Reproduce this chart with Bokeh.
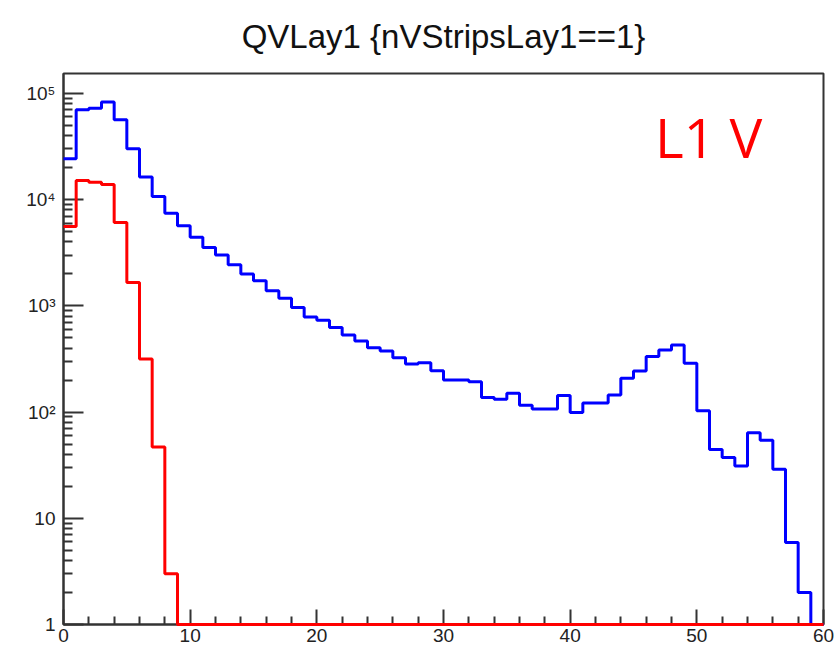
import numpy as np
from bokeh.plotting import figure
from bokeh.models import Range1d, FixedTicker, Label
from bokeh.embed import file_html
from bokeh.resources import INLINE

# ---- data -------------------------------------------------------------
bin_edges = [0, 1, 2, 3, 4, 5, 6, 7, 8, 9, 10, 11, 12, 13, 14, 15, 16, 17, 18, 19,
             20, 21, 22, 23, 24, 25, 26, 27, 28, 29, 30, 31, 32, 33, 34, 35, 36, 37, 38, 39,
             40, 41, 42, 43, 44, 45, 46, 47, 48, 49, 50, 51, 52, 53, 54, 55, 56, 57, 58, 59, 60]

blue_counts = [24200, 70200, 72600, 82800, 56500, 30100, 16300, 10700, 7430, 5690,
               4420, 3550, 3010, 2440, 1990, 1720, 1390, 1180, 964, 787,
               733, 624, 532, 467, 404, 376, 325, 284, 292, 245,
               200, 200, 193, 137, 132, 150, 116, 107, 107, 143,
               99, 122, 122, 145, 208, 244, 333, 385, 429, 288,
               103, 44.5, 37.4, 31, 63.8, 54.4, 29, 5.9, 2, 0]

red_counts = [5600, 15100, 14600, 13900, 6100, 1660, 316, 47, 3, 0,
              0, 0, 0, 0, 0, 0, 0, 0, 0, 0,
              0, 0, 0, 0, 0, 0, 0, 0, 0, 0,
              0, 0, 0, 0, 0, 0, 0, 0, 0, 0,
              0, 0, 0, 0, 0, 0, 0, 0, 0, 0,
              0, 0, 0, 0, 0, 0, 0, 0, 0, 0]

x_major_ticks = [0, 10, 20, 30, 40, 50, 60]
x_minor_ticks = [2, 4, 6, 8, 12, 14, 16, 18, 22, 24, 26, 28, 32, 34, 36, 38,
                 42, 44, 46, 48, 52, 54, 56, 58]
y_tick_values = [1, 10, 100, 1000, 10000, 100000]
y_tick_labels = ["1", "10", "10\u00b2", "10\u00b3", "10\u2074", "10\u2075"]

title_text = "QVLay1 {nVStripsLay1==1}"
tag_text = "L1 V"

y_min, y_max = 1, 1.54e5

# ---- figure -----------------------------------------------------------
W, H = 838, 653
ML, MR, MT, MB = 63, 15, 73, 29

p = figure(width=W, height=H, y_axis_type="log",
           x_range=Range1d(0, 60), y_range=Range1d(y_min, y_max),
           output_backend="svg", toolbar_location=None,
           min_border_left=ML, min_border_right=MR,
           min_border_top=MT, min_border_bottom=MB)

p.title.text = title_text
p.title.align = "center"
p.title.vertical_align = "top"
p.title.standoff = 34
p.title.text_font = "Liberation Sans"
p.title.text_font_size = "33px"
p.title.text_font_style = "normal"
p.title.text_color = "#111111"

p.xgrid.visible = False
p.ygrid.visible = False
p.outline_line_color = "#333333"
p.outline_line_width = 2
p.background_fill_color = "white"
p.border_fill_color = "white"

# step outlines (empty bins drawn on the floor of the log axis)
def step_values(counts):
    v = [c if c > 0 else y_min for c in counts]
    return v + [v[-1]]

rb = p.step(bin_edges, step_values(blue_counts), mode="after",
            line_color="#0000ff", line_width=3)
rr = p.step(bin_edges, step_values(red_counts), mode="after",
            line_color="#ff0000", line_width=3)
rb.level = "overlay"
rr.level = "overlay"

# axes
xa = p.xaxis[0]
xa.ticker = FixedTicker(ticks=x_major_ticks, minor_ticks=x_minor_ticks)
ya = p.yaxis[0]
y_minor = [m * 10 ** k for k in range(0, 6) for m in range(2, 10)]
ya.ticker = FixedTicker(ticks=y_tick_values, minor_ticks=y_minor)
ya.major_label_overrides = {float(v): s for v, s in zip(y_tick_values, y_tick_labels)}

for ax in (xa, ya):
    ax.axis_line_color = "#333333"
    ax.axis_line_width = 2
    ax.major_tick_line_color = "#333333"
    ax.minor_tick_line_color = "#333333"
    ax.major_tick_line_width = 2
    ax.minor_tick_line_width = 2
    ax.major_tick_out = 0
    ax.minor_tick_out = 0
    ax.major_label_text_font = "Liberation Sans"
    ax.major_label_text_font_size = "19px"
    ax.major_label_text_color = "#222222"

xa.major_tick_in = 15
xa.minor_tick_in = 8
xa.major_label_standoff = 4
ya.major_tick_in = 20
ya.minor_tick_in = 9
ya.major_label_standoff = 8

tag = Label(x=46.7, y=17600, text=tag_text, text_color="#ff0000",
            text_font="Open Sans", text_font_size="55px")
p.add_layout(tag)

open("out.html", "w").write(file_html(p, INLINE))
